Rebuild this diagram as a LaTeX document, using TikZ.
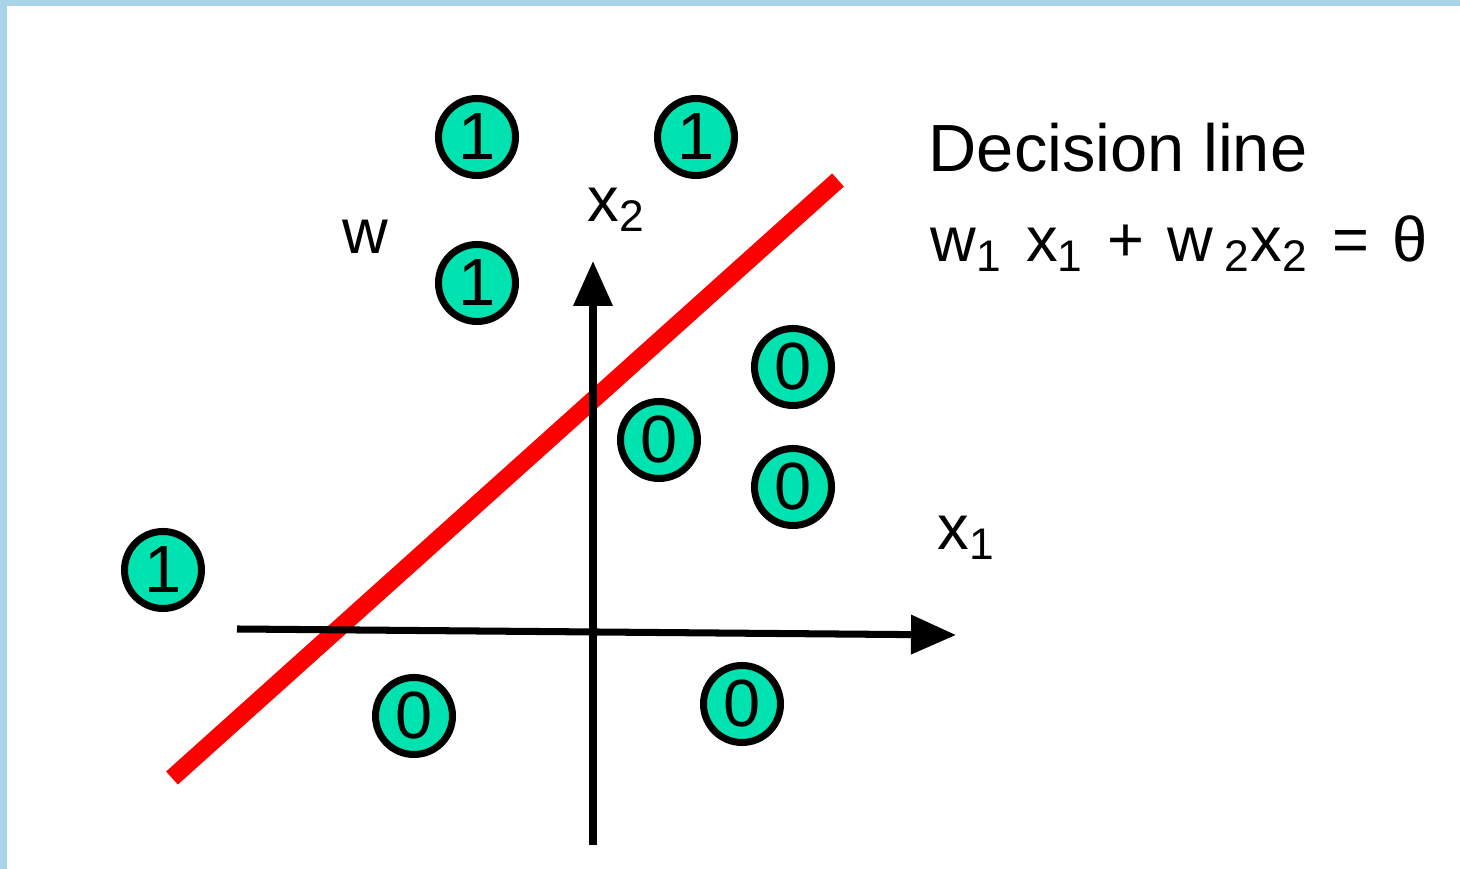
\documentclass[tikz,border=0pt]{standalone}
\usepackage{fontspec}
\setmainfont{Liberation Sans}
\usetikzlibrary{arrows.meta}
\definecolor{ptgreen}{HTML}{00E3B0}
\definecolor{slideblue}{HTML}{A9D3E6}

\newcommand{\gap}{\hspace{0.37em}}

\tikzset{
  pt/.style={circle, draw=black, line width=2pt, fill=ptgreen,
    minimum size=7.7mm, inner sep=0pt, font=\fontsize{19}{19}\selectfont},
  axis/.style={line width=2pt, -{Triangle[length=4.5mm, width=3.8mm]}},
  lbl/.style={font=\fontsize{18}{18}\selectfont, inner sep=0pt, anchor=base west}
}

\begin{document}
\begin{tikzpicture}
  \useasboundingbox (0,0) rectangle (14.6,8.69);
  % slide frame
  \fill[slideblue] (0,0) rectangle (14.6,8.69);
  \fill[white] (0.07,0) rectangle (14.6,8.63);

  % decision line
  \coordinate (d0) at (1.72,0.91);
  \coordinate (d1) at (8.38,6.89);
  \draw[red, line width=5pt] (d0) -- (d1);

  % axes
  \coordinate (xl) at (2.37,2.40);
  \coordinate (xr) at (9.56,2.34);
  \coordinate (yb) at (5.93,0.24);
  \coordinate (yt) at (5.93,6.08);
  \draw[axis] (xl) -- (xr);
  \draw[axis] (yb) -- (yt);

  % points
  \foreach \n/\x/\y/\v in {a/4.77/7.32/1, b/6.96/7.32/1, c/4.77/5.86/1,
    d/1.63/2.99/1, e/7.93/5.02/0, f/6.59/4.29/0, g/7.93/3.82/0,
    h/4.14/1.53/0, i/7.42/1.65/0}
    \node[pt] (p\n) at (\x,\y) {\v};

  % labels
  \node[lbl] (w) at (3.42,6.15) {w};
  \node[lbl] (x2) at (5.87,6.47) {x\textsubscript{2}};
  \node[lbl] (x1) at (9.37,3.19) {x\textsubscript{1}};
  \node[lbl, font=\fontsize{19}{19}\selectfont] (title) at (9.28,6.97) {Decision line};
  \node[lbl] (eq) at (9.30,6.07)
    {w\textsubscript{1}\gap x\textsubscript{1}\gap+\gap w\,\textsubscript{2}x\textsubscript{2}\gap=\gap θ};
\end{tikzpicture}
\end{document}
